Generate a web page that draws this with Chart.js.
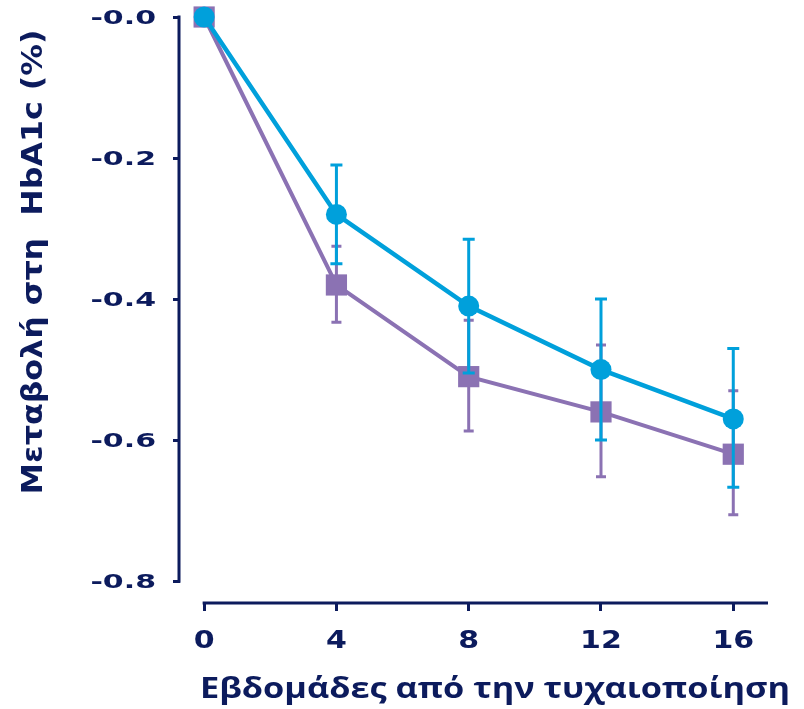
<!DOCTYPE html>
<html>
<head>
<meta charset="utf-8">
<script src="https://cdn.jsdelivr.net/npm/chart.js@4/dist/chart.umd.min.js"></script>
<style>
  html, body { margin: 0; padding: 0; background: #fff; }
  #wrap { width: 804px; height: 709px; position: relative; }
</style>
</head>
<body>
<div id="wrap"><canvas id="chart"></canvas></div>
<script>
  // --- data ---
  const weeks = [0, 4, 8, 12, 16];
  const xTickValues = [0, 4, 8, 12, 16];
  const xTickLabels = ["0", "4", "8", "12", "16"];
  const yTickValues = [0, -0.2, -0.4, -0.6, -0.8];
  const yTickLabels = ["-0.0", "-0.2", "-0.4", "-0.6", "-0.8"];

  const cyanMean = [0, -0.28, -0.41, -0.5, -0.57];
  const cyanUpper = [null, -0.21, -0.315, -0.4, -0.47];
  const cyanLower = [null, -0.35, -0.505, -0.6, -0.667];

  const purpleMean = [0, -0.38, -0.51, -0.56, -0.62];
  const purpleUpper = [null, -0.325, -0.43, -0.465, -0.53];
  const purpleLower = [null, -0.433, -0.587, -0.652, -0.706];

  const yTitle = "Μεταβολή στη  HbA1c (%)";
  const xTitle = "Εβδομάδες από την τυχαιοποίηση";

  const NAVY = "#0c1b5d";
  const CYAN = "#00a0db";
  const PURPLE = "#8b72b3";

  const toPoints = (ys) => weeks.map((w, i) => ({ x: w, y: ys[i] }));

  // stretched text helper (reference text is wider than the fonts we have)
  function stretchText(ctx, text, x, y, font, sx, align, baseline, rot) {
    ctx.save();
    ctx.font = font;
    ctx.fillStyle = NAVY;
    ctx.textAlign = align;
    ctx.textBaseline = baseline;
    ctx.translate(x, y);
    if (rot) ctx.rotate(rot);
    ctx.scale(sx, 1);
    ctx.fillText(text, 0, 0);
    ctx.restore();
  }

  function fitText(ctx, text, x, y, font, width, baseline, rot) {
    ctx.save();
    ctx.font = font;
    const w = ctx.measureText(text).width;
    ctx.restore();
    stretchText(ctx, text, x, y, font, width / w, "center", baseline, rot);
  }

  /* error bars: drawn just before each dataset so the markers sit on top */
  const errorBars = {
    id: "errorBars",
    beforeDatasetDraw(chart, args) {
      const ds = chart.data.datasets[args.index];
      const { x, y } = chart.scales;
      const ctx = chart.ctx;
      ctx.save();
      ctx.strokeStyle = ds.borderColor;
      ctx.lineWidth = 3;
      ds.upper.forEach((u, i) => {
        if (u == null) return;
        const px = x.getPixelForValue(weeks[i]);
        const top = y.getPixelForValue(u);
        const bot = y.getPixelForValue(ds.lower[i]);
        const cw = ds.capWidth / 2;
        ctx.beginPath();
        ctx.moveTo(px, top);
        ctx.lineTo(px, bot);
        ctx.moveTo(px - cw, top);
        ctx.lineTo(px + cw, top);
        ctx.moveTo(px - cw, bot);
        ctx.lineTo(px + cw, bot);
        ctx.stroke();
      });
      ctx.restore();
    },
  };

  /* detached axis lines + all text */
  const axesAndText = {
    id: "axesAndText",
    beforeDatasetsDraw(chart) {
      const { ctx, chartArea } = chart;
      const { x, y } = chart.scales;
      ctx.save();
      ctx.strokeStyle = NAVY;
      ctx.lineWidth = 3;
      ctx.beginPath();
      ctx.moveTo(chartArea.left - 1, y.getPixelForValue(0) - 1.5);
      ctx.lineTo(chartArea.left - 1, y.getPixelForValue(-0.8) + 1.5);
      ctx.moveTo(x.getPixelForValue(0) - 1.5, chartArea.bottom);
      ctx.lineTo(chartArea.right, chartArea.bottom);
      ctx.stroke();
      ctx.restore();

      yTickValues.forEach((v, i) => {
        stretchText(ctx, yTickLabels[i], 156, y.getPixelForValue(v) + 2,
          "bold 20px 'DejaVu Sans'", 1.5, "right", "middle");
      });
      xTickValues.forEach((v, i) => {
        stretchText(ctx, xTickLabels[i], x.getPixelForValue(v), 648,
          "bold 25px 'DejaVu Sans'", 1.2, "center", "alphabetic");
      });
      fitText(ctx, yTitle, 34, 262, "bold 29px 'DejaVu Sans'", 465, "middle", -Math.PI / 2);
      fitText(ctx, xTitle, 495, 698, "bold 28px 'Open Sans'", 590, "alphabetic");
    },
  };

  new Chart(document.getElementById("chart"), {
    type: "line",
    data: {
      datasets: [
        {
          label: "cyan",
          data: toPoints(cyanMean),
          upper: cyanUpper,
          lower: cyanLower,
          capWidth: 12,
          borderColor: CYAN,
          backgroundColor: CYAN,
          borderWidth: 4.5,
          pointStyle: "circle",
          pointRadius: 10.5,
          pointBorderWidth: 0,
          pointHoverRadius: 10.5,
          clip: false,
        },
        {
          label: "purple",
          data: toPoints(purpleMean),
          upper: purpleUpper,
          lower: purpleLower,
          capWidth: 10,
          borderColor: PURPLE,
          backgroundColor: PURPLE,
          borderWidth: 4,
          pointStyle: "rect",
          pointRadius: 15,
          pointBorderWidth: 0,
          pointHoverRadius: 15,
          clip: false,
        },
      ],
    },
    options: {
      responsive: true,
      maintainAspectRatio: false,
      animation: false,
      layout: { padding: { top: 17, right: 36, left: 0, bottom: 0 } },
      plugins: { legend: { display: false }, tooltip: { enabled: false } },
      scales: {
        x: {
          type: "linear",
          min: -0.73,
          max: 17.05,
          afterBuildTicks: (s) => { s.ticks = xTickValues.map((v) => ({ value: v })); },
          afterFit: (s) => { s.height = 106; },
          ticks: { display: false },
          border: { display: false },
          grid: { drawOnChartArea: false, drawTicks: true, tickLength: 8, tickWidth: 3, color: NAVY },
        },
        y: {
          type: "linear",
          min: -0.831,
          max: 0,
          afterBuildTicks: (s) => { s.ticks = yTickValues.map((v) => ({ value: v })); },
          afterFit: (s) => { s.width = 180; },
          ticks: { display: false },
          border: { display: false },
          grid: { drawOnChartArea: false, drawTicks: true, tickLength: 7, tickWidth: 3, color: NAVY },
        },
      },
    },
    plugins: [errorBars, axesAndText],
  });
</script>
</body>
</html>
